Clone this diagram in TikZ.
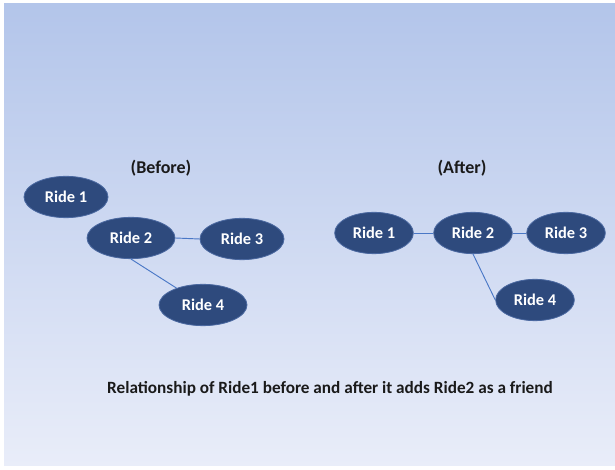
\documentclass[tikz,border=0pt]{standalone}
\usepackage{fontspec}
\setmainfont{Carlito}
\usetikzlibrary{shapes.geometric}
\definecolor{SkyTop}    {HTML}{B3C5EA}
\definecolor{SkyBottom} {HTML}{E9EDF9}
\definecolor{RideNavy}  {HTML}{2E4A7D}
\definecolor{RideEdge}  {HTML}{4A68A0}
\definecolor{LinkBlue}  {HTML}{4A78C6}
\definecolor{InkBlack}  {HTML}{1A1A1A}
\tikzset{
  ride/.style={ellipse,fill=RideNavy,draw=RideEdge,line width=0.6pt,
               inner sep=0pt,minimum width=#1,minimum height=31pt,
               font=\fontsize{12.3}{14}\selectfont\bfseries\color{white}},
  ride/.default=66pt,
  link/.style={draw=LinkBlue,line width=0.7pt},
  head/.style={font=\fontsize{13.5}{16}\selectfont\bfseries\color{InkBlack}},
  caption/.style={font=\fontsize{12.9}{15}\selectfont\bfseries\color{InkBlack}},
}

\begin{document}
\begin{tikzpicture}[x=0.75pt,y=-0.75pt]

  \useasboundingbox (0,0) rectangle (615,470);
  \shade[top color=SkyTop,bottom color=SkyBottom] (4,4) rectangle (615,466);

  % before
  \node[head] (before) at (161,168) {(Before)};
  \node[ride=63pt] (b1) at (66,197) {Ride 1};
  \node[ride] (b2) at (131,238) {Ride 2};
  \node[ride=63pt] (b3) at (242,239) {Ride 3};
  \node[ride] (b4) at (203,305) {Ride 4};

  \draw[link] (b2.east) -- (b3.west);
  \draw[link] (b2.south) -- (b4);

  % after
  \node[head] (after) at (462,168) {(After)};
  \node[ride=59pt] (a1) at (374,233) {Ride 1};
  \node[ride=59pt] (a2) at (473,233) {Ride 2};
  \node[ride=59pt] (a3) at (566,233) {Ride 3};
  \node[ride=59pt] (a4) at (535,300) {Ride 4};

  \draw[link] (a1.east) -- (a2.west);
  \draw[link] (a2.east) -- (a3.west);
  \draw[link] (a2.south) -- (a4.west);

  \node[caption] (caption) at (330,389)
    {Relationship of Ride1 before and after it adds Ride2 as a friend};

\end{tikzpicture}
\end{document}
